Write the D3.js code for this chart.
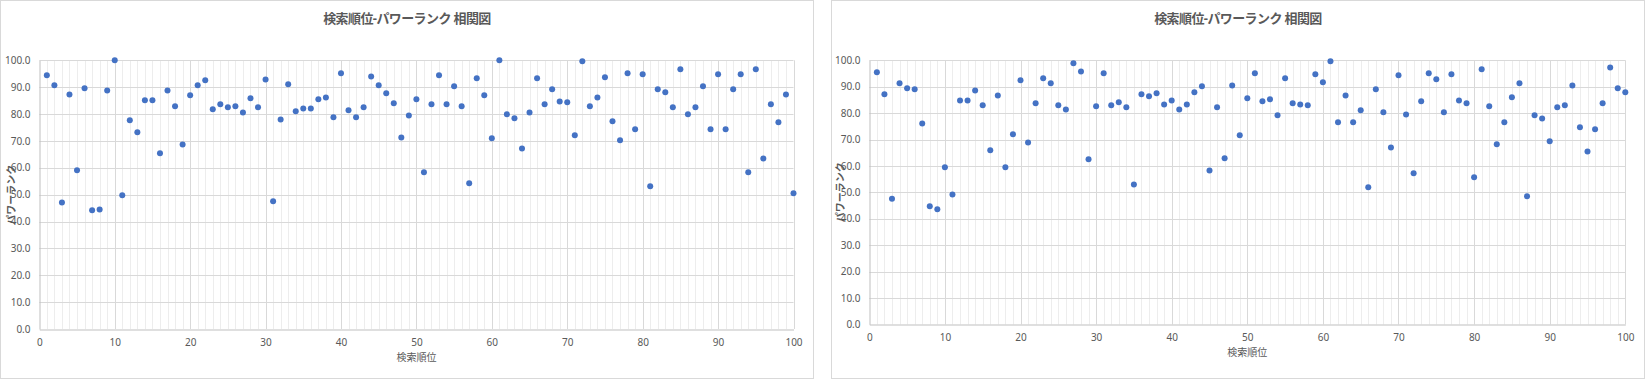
<!DOCTYPE html>
<html>
<head>
<meta charset="utf-8">
<script src="https://cdn.jsdelivr.net/npm/d3@7"></script>
<style>
  body { margin: 0; background: #fff; }
  svg { display: block; }
  text { font-family: "Noto Sans", "Noto Sans CJK JP", sans-serif; fill: #595959; }
</style>
</head>
<body>
<svg width="1645" height="379"></svg>
<script>
// search rank on x, power rank on y
var ranks = d3.range(1, 101);

var powerLeft = [
  94.4, 90.7, 47.1, 87.3, 59.1, 89.6, 44.2, 44.5, 88.8, 100.0,
  49.8, 77.7, 73.2, 85.1, 85.1, 65.4, 88.8, 82.9, 68.7, 87.0,
  90.7, 92.6, 81.8, 83.6, 82.5, 82.9, 80.6, 85.9, 82.5, 92.9,
  47.5, 78.0, 91.1, 81.0, 82.1, 82.1, 85.5, 86.2, 78.8, 95.2,
  81.4, 78.8, 82.5, 94.0, 90.7, 87.7, 84.0, 71.3, 79.5, 85.5,
  58.3, 83.6, 94.4, 83.6, 90.3, 82.9, 54.2, 93.3, 87.0, 71.0,
  100.0, 79.9, 78.4, 67.2, 80.6, 93.3, 83.6, 89.2, 84.7, 84.4,
  72.1, 99.6, 82.9, 86.2, 93.7, 77.3, 70.2, 95.2, 74.3, 94.8,
  53.1, 89.2, 88.1, 82.5, 96.7, 79.9, 82.5, 90.3, 74.3, 94.8,
  74.3, 89.2, 94.8, 58.3, 96.7, 63.5, 83.6, 76.9, 87.3, 50.5
];

var powerRight = [
  95.5, 87.1, 47.6, 91.3, 89.4, 89.0, 76.1, 44.7, 43.6, 59.5,
  49.2, 84.8, 84.8, 88.6, 83.0, 65.9, 86.7, 59.5, 72.0, 92.4,
  68.9, 83.7, 93.2, 91.3, 83.0, 81.4, 98.9, 95.8, 62.5, 82.6,
  95.1, 83.0, 84.1, 82.2, 53.0, 87.1, 86.4, 87.5, 83.3, 84.8,
  81.4, 83.3, 87.9, 90.2, 58.3, 82.2, 62.9, 90.5, 71.6, 85.6,
  95.1, 84.5, 85.2, 79.2, 93.2, 83.7, 83.3, 83.0, 94.7, 91.7,
  99.6, 76.5, 86.7, 76.5, 81.1, 51.9, 89.0, 80.3, 67.0, 94.3,
  79.5, 57.2, 84.5, 95.1, 92.8, 80.3, 94.7, 84.8, 83.7, 55.7,
  96.6, 82.6, 68.2, 76.5, 86.0, 91.3, 48.5, 79.2, 78.0, 69.3,
  82.2, 83.0, 90.5, 74.6, 65.5, 73.9, 83.7, 97.3, 89.4, 87.9
];

var xTicks = [0, 10, 20, 30, 40, 50, 60, 70, 80, 90, 100];
var yTicks = [0, 10, 20, 30, 40, 50, 60, 70, 80, 90, 100];

var title = "検索順位-パワーランク 相関図";
var xTitle = "検索順位";
var yTitle = "パワーランク";

var svg = d3.select("svg");

function drawChart(box, plot, values) {
  var g = svg.append("g");

  // outer frame
  g.append("rect")
    .attr("x", box.x + 0.5).attr("y", 0.5)
    .attr("width", box.w - 1).attr("height", box.h - 1)
    .attr("fill", "#fff").attr("stroke", "#d9d9d9");

  var x = d3.scaleLinear().domain([0, 100]).range([plot.left, plot.right]);
  var y = d3.scaleLinear().domain([0, 100]).range([plot.bottom, plot.top]);

  // minor vertical grid
  g.append("g").selectAll("line")
    .data(d3.range(1, 100).filter(function(d) { return d % 10 !== 0; }))
    .enter().append("line")
    .attr("x1", function(d) { return Math.round(x(d)) + 0.5; })
    .attr("x2", function(d) { return Math.round(x(d)) + 0.5; })
    .attr("y1", plot.top).attr("y2", plot.bottom)
    .attr("stroke", "#ededed");

  // major grid
  g.append("g").selectAll("line")
    .data(yTicks.slice(1))
    .enter().append("line")
    .attr("x1", plot.left).attr("x2", plot.right)
    .attr("y1", function(d) { return Math.round(y(d)) + 0.5; })
    .attr("y2", function(d) { return Math.round(y(d)) + 0.5; })
    .attr("stroke", "#d9d9d9");

  g.append("g").selectAll("line")
    .data(xTicks.slice(1))
    .enter().append("line")
    .attr("x1", function(d) { return Math.round(x(d)) + 0.5; })
    .attr("x2", function(d) { return Math.round(x(d)) + 0.5; })
    .attr("y1", plot.top).attr("y2", plot.bottom)
    .attr("stroke", "#d9d9d9");

  // axes lines
  var xAxis = g.append("g")
    .attr("transform", "translate(0," + (Math.round(plot.bottom) + 0.5) + ")")
    .call(d3.axisBottom(x).tickValues(xTicks).tickSize(0).tickPadding(plot.xPad));
  var yAxis = g.append("g")
    .attr("transform", "translate(" + (Math.round(plot.left) + 0.5) + ",0)")
    .call(d3.axisLeft(y).tickValues(yTicks).tickSize(0).tickPadding(9)
      .tickFormat(d3.format(".1f")));

  [xAxis, yAxis].forEach(function(a) {
    a.select(".domain").attr("stroke", "#bfbfbf");
    a.selectAll("text").attr("fill", "#595959")
      .style("font-size", "10px");
  });

  // dots
  g.append("g").selectAll("circle")
    .data(values)
    .enter().append("circle")
    .attr("cx", function(d, i) { return x(ranks[i]); })
    .attr("cy", function(d) { return y(d); })
    .attr("r", 3)
    .attr("fill", "#4472c4");

  // titles
  g.append("text")
    .attr("x", box.x + box.w / 2).attr("y", 23)
    .attr("text-anchor", "middle")
    .style("font-size", "13px").style("font-weight", "bold")
    .style("letter-spacing", "-0.6px")
    .text(title);

  g.append("text")
    .attr("x", (plot.left + plot.right) / 2).attr("y", plot.xTitleY)
    .attr("text-anchor", "middle")
    .style("font-size", "10px")
    .text(xTitle);

  g.append("text")
    .attr("transform", "translate(" + plot.yTitleX + "," + ((plot.top + plot.bottom) / 2) + ") rotate(-90)")
    .attr("text-anchor", "middle")
    .attr("dy", "0.35em")
    .style("font-size", "10px").style("font-weight", "bold")
    .text(yTitle);
}

drawChart({x: 0, w: 814, h: 379},
  {left: 39.3, right: 793.5, top: 60.3, bottom: 329, xPad: 9, xTitleY: 361, yTitleX: 11},
  powerLeft);

drawChart({x: 831, w: 814, h: 379},
  {left: 869.3, right: 1625.3, top: 60.3, bottom: 324.3, xPad: 9, xTitleY: 356, yTitleX: 840},
  powerRight);
</script>
</body>
</html>
